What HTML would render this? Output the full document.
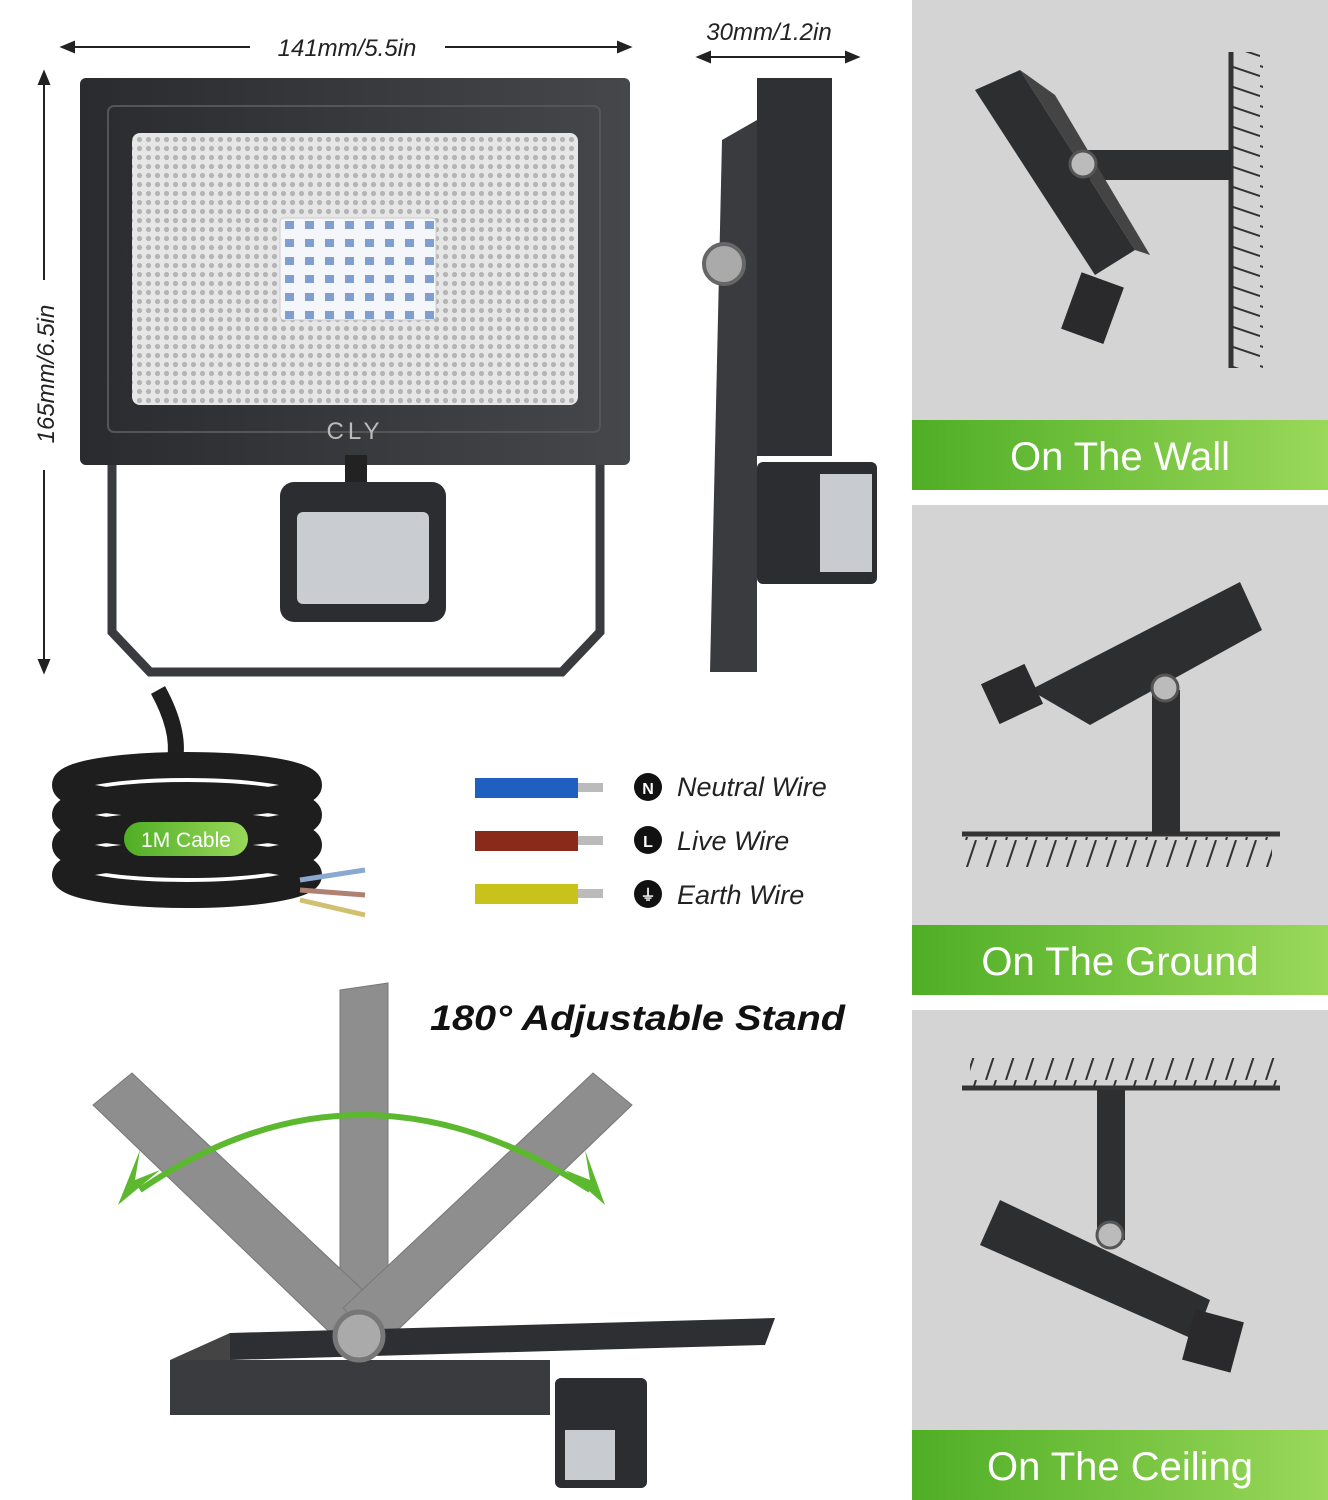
<!DOCTYPE html>
<html><head><meta charset="utf-8">
<style>
html,body{margin:0;padding:0;background:#fff;}
svg{display:block;}
text{font-family:"Liberation Sans",sans-serif;}
</style></head>
<body>
<svg width="1328" height="1500" viewBox="0 0 1328 1500" xmlns="http://www.w3.org/2000/svg">
<defs>
<linearGradient id="gr" x1="0" x2="1" y1="0" y2="0">
<stop offset="0" stop-color="#4fae25"/><stop offset="1" stop-color="#9ad85a"/>
</linearGradient>
<pattern id="dots" width="9" height="9" patternUnits="userSpaceOnUse">
<rect width="9" height="9" fill="#e6e6e6"/><circle cx="4.5" cy="4.5" r="2.6" fill="#b5b5b5"/>
</pattern>
<pattern id="leds" width="20" height="18" patternUnits="userSpaceOnUse">
<rect width="20" height="18" fill="#f4f6fa"/><rect x="5" y="5" width="9" height="8" fill="#7f9fd0"/>
</pattern>
<pattern id="hatch" width="20" height="30" patternUnits="userSpaceOnUse">
<line x1="16" y1="0" x2="6" y2="30" stroke="#333" stroke-width="2"/>
</pattern>
<pattern id="hatchv" width="30" height="20" patternUnits="userSpaceOnUse">
<line x1="0" y1="6" x2="30" y2="16" stroke="#333" stroke-width="2"/>
</pattern>
<linearGradient id="gb" x1="0" x2="1"><stop offset="0" stop-color="#2a2b2e"/><stop offset="1" stop-color="#45474b"/></linearGradient>
</defs>

<!-- right panels -->
<rect x="912" y="0" width="416" height="420" fill="#d4d4d4"/>
<rect x="912" y="420" width="416" height="70" fill="url(#gr)"/>
<text x="1120" y="470" font-size="40" fill="#fff" text-anchor="middle">On The Wall</text>
<rect x="912" y="505" width="416" height="420" fill="#d4d4d4"/>
<rect x="912" y="925" width="416" height="70" fill="url(#gr)"/>
<text x="1120" y="975" font-size="40" fill="#fff" text-anchor="middle">On The Ground</text>
<rect x="912" y="1010" width="416" height="420" fill="#d4d4d4"/>
<rect x="912" y="1430" width="416" height="70" fill="url(#gr)"/>
<text x="1120" y="1480" font-size="40" fill="#fff" text-anchor="middle">On The Ceiling</text>

<!-- wall scene -->
<line x1="1231" y1="52" x2="1231" y2="368" stroke="#333" stroke-width="5"/>
<rect x="1233" y="52" width="30" height="316" fill="url(#hatchv)"/>
<rect x="1085" y="150" width="146" height="30" fill="#2e2f31"/>
<polygon points="975,90 1020,70 1135,250 1095,275" fill="#2d2e30"/>
<polygon points="1020,70 1055,95 1150,255 1135,250" fill="#444"/>
<rect x="1070" y="278" width="45" height="60" fill="#2a2a2c" transform="rotate(20 1092 308)"/>
<circle cx="1083" cy="164" r="13" fill="#bbb" stroke="#555" stroke-width="3"/>

<!-- ground scene -->
<line x1="962" y1="834" x2="1280" y2="834" stroke="#333" stroke-width="5"/>
<rect x="962" y="837" width="310" height="30" fill="url(#hatch)"/>
<rect x="1152" y="690" width="28" height="144" fill="#2e2f31"/>
<polygon points="1030,690 1240,582 1262,630 1090,725" fill="#2d2e30"/>
<rect x="988" y="672" width="48" height="44" fill="#2a2a2c" transform="rotate(-25 1012 694)"/>
<circle cx="1165" cy="688" r="13" fill="#bbb" stroke="#555" stroke-width="3"/>

<!-- ceiling scene -->
<line x1="962" y1="1088" x2="1280" y2="1088" stroke="#333" stroke-width="5"/>
<rect x="970" y="1058" width="310" height="28" fill="url(#hatch)"/>
<rect x="1097" y="1090" width="28" height="150" fill="#2e2f31"/>
<polygon points="1000,1200 1210,1300 1195,1340 980,1245" fill="#2d2e30"/>
<rect x="1188" y="1315" width="50" height="52" fill="#2a2a2c" transform="rotate(15 1213 1341)"/>
<circle cx="1110" cy="1235" r="13" fill="#bbb" stroke="#555" stroke-width="3"/>

<!-- dimensions -->
<g stroke="#222" stroke-width="2" fill="#222">
<line x1="64" y1="47" x2="250" y2="47"/><line x1="445" y1="47" x2="628" y2="47"/>
<polygon points="62,47 74,42 74,52"/><polygon points="630,47 618,42 618,52"/>
<line x1="44" y1="74" x2="44" y2="280"/><line x1="44" y1="470" x2="44" y2="670"/>
<polygon points="44,72 39,84 49,84"/><polygon points="44,672 39,660 49,660"/>
<line x1="700" y1="57" x2="855" y2="57"/>
<polygon points="698,57 710,52 710,62"/><polygon points="858,57 846,52 846,62"/>
</g>
<text x="347" y="56" font-size="24" font-style="italic" text-anchor="middle" fill="#222">141mm/5.5in</text>
<text x="769" y="40" font-size="24" font-style="italic" text-anchor="middle" fill="#222">30mm/1.2in</text>
<text x="0" y="0" font-size="24" font-style="italic" text-anchor="middle" fill="#222" transform="translate(54 374) rotate(-90)">165mm/6.5in</text>

<!-- front light -->
<path d="M112 460 V632 L150 672 H562 L600 632 V460" fill="none" stroke="#3a3b3e" stroke-width="9"/>
<rect x="80" y="78" width="550" height="387" rx="6" fill="url(#gb)"/>
<rect x="108" y="106" width="492" height="326" rx="6" fill="none" stroke="#555" stroke-width="2"/>
<rect x="132" y="133" width="446" height="272" rx="8" fill="url(#dots)"/>
<rect x="280" y="218" width="156" height="102" rx="4" fill="url(#leds)" stroke="#ccc"/>
<text x="355" y="439" font-size="24" fill="#bbb" text-anchor="middle" letter-spacing="4">CLY</text>
<rect x="345" y="455" width="22" height="30" fill="#222"/>
<rect x="280" y="482" width="166" height="140" rx="14" fill="#2c2d30"/>
<rect x="297" y="512" width="132" height="92" rx="6" fill="#c9ccd0"/>

<!-- side view -->
<rect x="757" y="78" width="75" height="378" fill="#2f3033"/>
<polygon points="722,140 757,120 757,672 710,672" fill="#3a3b3e"/>
<circle cx="724" cy="264" r="20" fill="#aaa" stroke="#666" stroke-width="4"/>
<rect x="757" y="462" width="120" height="122" rx="6" fill="#2c2d30"/>
<rect x="820" y="474" width="52" height="98" fill="#c8cbcf"/>

<!-- cable -->
<path d="M158 690 Q180 730 175 760" stroke="#1f1f1f" stroke-width="16" fill="none"/>
<g fill="none" stroke="#1e1e1e" stroke-width="26">
<ellipse cx="187" cy="785" rx="122" ry="20"/>
<ellipse cx="187" cy="815" rx="122" ry="20"/>
<ellipse cx="187" cy="845" rx="122" ry="20"/>
<ellipse cx="187" cy="875" rx="122" ry="20"/>
</g>
<path d="M300 880 L365 870" stroke="#8aa8d0" stroke-width="5"/>
<path d="M300 890 L365 895" stroke="#b08070" stroke-width="5"/>
<path d="M300 900 L365 915" stroke="#d0c070" stroke-width="5"/>
<rect x="124" y="822" width="124" height="34" rx="17" fill="url(#gr)"/>
<text x="186" y="847" font-size="21" fill="#fff" text-anchor="middle">1M Cable</text>

<!-- wires -->
<rect x="475" y="778" width="103" height="20" fill="#1f5fc0"/><rect x="578" y="783" width="25" height="9" fill="#bbb"/>
<rect x="475" y="831" width="103" height="20" fill="#8a2a1a"/><rect x="578" y="836" width="25" height="9" fill="#bbb"/>
<rect x="475" y="884" width="103" height="20" fill="#c8c21a"/><rect x="578" y="889" width="25" height="9" fill="#bbb"/>
<circle cx="648" cy="787" r="14" fill="#111"/><text x="648" y="794" font-size="16" font-weight="bold" fill="#fff" text-anchor="middle">N</text>
<circle cx="648" cy="840" r="14" fill="#111"/><text x="648" y="847" font-size="16" font-weight="bold" fill="#fff" text-anchor="middle">L</text>
<circle cx="648" cy="894" r="14" fill="#111"/><text x="648" y="900" font-size="15" font-weight="bold" fill="#fff" text-anchor="middle">⏚</text>
<text x="677" y="796" font-size="27" font-style="italic" fill="#222">Neutral Wire</text>
<text x="677" y="850" font-size="27" font-style="italic" fill="#222">Live Wire</text>
<text x="677" y="904" font-size="27" font-style="italic" fill="#222">Earth Wire</text>

<!-- adjustable stand -->
<text x="430" y="1030" font-size="35" font-weight="bold" font-style="italic" fill="#111" textLength="415" lengthAdjust="spacingAndGlyphs">180° Adjustable Stand</text>
<g fill="#8e8e8e" stroke="#777">
<polygon points="340,990 388,983 388,1330 340,1330"/>
<polygon points="93,1105 132,1073 382,1308 345,1347"/>
<polygon points="632,1105 593,1073 343,1308 380,1347"/>
</g>
<path d="M140 1190 Q360 1040 590 1190" fill="none" stroke="#5cb82e" stroke-width="6"/>
<polygon points="118,1205 160,1170 135,1180 140,1150" fill="#5cb82e"/>
<polygon points="605,1205 565,1170 590,1180 585,1150" fill="#5cb82e"/>
<polygon points="230,1333 775,1318 765,1345 230,1360" fill="#2e2f32"/>
<rect x="170" y="1360" width="380" height="55" fill="#3a3b3e"/>
<polygon points="170,1360 230,1333 230,1360" fill="#444"/>
<rect x="555" y="1378" width="92" height="110" rx="6" fill="#2c2d30"/>
<rect x="565" y="1430" width="50" height="50" fill="#c8cbcf"/>
<circle cx="359" cy="1336" r="24" fill="#aaa" stroke="#777" stroke-width="5"/>
</svg>
</body></html>
